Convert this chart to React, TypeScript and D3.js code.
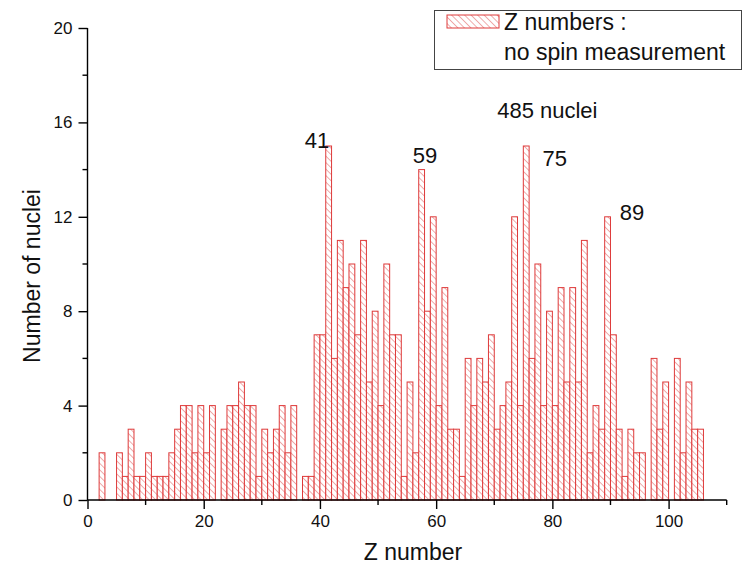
import { useEffect, useRef } from 'react'
import * as d3 from 'd3'

// Z number (left edge of each 1-wide bin) and how many nuclei fall in it
const Z_BINS = [
  2, 5, 6, 7, 8, 9, 10, 11, 12, 13, 14, 15, 16, 17, 18, 19, 20, 21,
  23, 24, 25, 26, 27, 28, 29, 30, 31, 32, 33, 34, 35,
  37, 38, 39, 40, 41, 42, 43, 44, 45, 46, 47, 48, 49, 50, 51, 52, 53, 54,
  55, 56, 57, 58, 59, 60, 61, 62, 63, 64, 65, 66, 67, 68, 69, 70,
  71, 72, 73, 74, 75, 76, 77, 78, 79, 80, 81, 82, 83, 84, 85, 86, 87, 88,
  89, 90, 91, 92, 93, 94, 95, 97, 98, 99, 101, 102, 103, 104, 105,
]
const COUNTS = [
  2, 2, 1, 3, 1, 1, 2, 1, 1, 1, 2, 3, 4, 4, 2, 4, 2, 4,
  3, 4, 4, 5, 4, 4, 1, 3, 2, 3, 4, 2, 4,
  1, 1, 7, 7, 15, 6, 11, 9, 10, 7, 11, 5, 8, 4, 10, 7, 7, 1,
  5, 2, 14, 8, 12, 4, 9, 3, 3, 1, 6, 4, 6, 5, 7, 3,
  4, 5, 12, 4, 15, 6, 10, 4, 8, 4, 9, 5, 9, 5, 11, 2, 4, 3,
  12, 7, 3, 1, 3, 2, 2, 6, 3, 5, 6, 2, 5, 3, 3,
]

const X_TICKS = [0, 20, 40, 60, 80, 100]
const X_MINOR = [10, 30, 50, 70, 90, 110]
const Y_TICKS = [0, 4, 8, 12, 16, 20]
const Y_MINOR = [2, 6, 10, 14, 18]

// peak labels: [text, z, count] placed in data space
const PEAK_LABELS: [string, number, number][] = [
  ['41', 39.5, 14.9],
  ['59', 58.1, 14.3],
  ['75', 80.4, 14.15],
  ['89', 93.7, 11.85],
]

const RED = '#de3a3a'
const HATCH = '#e46a6a'
const FONT = '"Liberation Sans", Arial, sans-serif'

export default function App() {
  const svgRef = useRef<SVGSVGElement>(null)

  useEffect(() => {
    const svgEl = svgRef.current
    if (!svgEl) return
    const totalW = 743
    const totalH = 575

    d3.select(svgEl).selectAll('*').remove()
    const svg = d3.select(svgEl).attr('width', totalW).attr('height', totalH)

    const x = d3.scaleLinear().domain([0, 110]).range([87.5, 726.7])
    const y = d3.scaleLinear().domain([0, 20]).range([500, 28])

    const defs = svg.append('defs')
    const pat = defs.append('pattern')
      .attr('id', 'hatch')
      .attr('patternUnits', 'userSpaceOnUse')
      .attr('width', 4.6).attr('height', 4.6)
      .attr('patternTransform', 'rotate(-45)')
    pat.append('rect').attr('width', 4.6).attr('height', 4.6).attr('fill', '#fff')
    pat.append('line')
      .attr('x1', 0).attr('y1', 0).attr('x2', 0).attr('y2', 4.6)
      .attr('stroke', HATCH).attr('stroke-width', 1.1)

    const bins = Z_BINS.map((z, i) => ({ z, n: COUNTS[i] }))

    svg.append('g')
      .selectAll('rect')
      .data(bins)
      .enter()
      .append('rect')
      .attr('x', d => x(d.z))
      .attr('y', d => y(d.n))
      .attr('width', d => x(d.z + 1) - x(d.z))
      .attr('height', d => y(0) - y(d.n))
      .attr('fill', 'url(#hatch)')
      .attr('stroke', RED)
      .attr('stroke-width', 1)

    // x axis
    const xAx = svg.append('g').attr('transform', `translate(0,${y(0)})`)
    xAx.call(d3.axisBottom(x).tickValues(X_TICKS).tickSize(9).tickPadding(6).tickFormat(d3.format('d')))
    X_MINOR.forEach(v => {
      xAx.append('line').attr('x1', x(v)).attr('x2', x(v)).attr('y1', 0).attr('y2', 5)
        .attr('stroke', '#000').attr('stroke-width', 1.4)
    })
    xAx.select('.domain').attr('d', `M${x(0)},0H${x(110)}`).attr('stroke-width', 1.4)
    xAx.selectAll('.tick line').attr('stroke-width', 1.4)
    xAx.selectAll('.tick text').attr('font-family', FONT).attr('font-size', 17).attr('fill', '#111')

    // y axis
    const yAx = svg.append('g').attr('transform', `translate(${x(0)},0)`)
    yAx.call(d3.axisLeft(y).tickValues(Y_TICKS).tickSize(9).tickPadding(6).tickFormat(d3.format('d')))
    Y_MINOR.forEach(v => {
      yAx.append('line').attr('x1', 0).attr('x2', -5).attr('y1', y(v)).attr('y2', y(v))
        .attr('stroke', '#000').attr('stroke-width', 1.4)
    })
    yAx.select('.domain').attr('d', `M0,${y(20)}V${y(0)}`).attr('stroke-width', 1.4)
    yAx.selectAll('.tick line').attr('stroke-width', 1.4)
    yAx.selectAll('.tick text').attr('font-family', FONT).attr('font-size', 17).attr('fill', '#111')

    // axis titles
    svg.append('text')
      .attr('x', 413).attr('y', 560)
      .attr('text-anchor', 'middle')
      .attr('font-family', FONT).attr('font-size', 23).attr('fill', '#111')
      .text('Z number')

    svg.append('text')
      .attr('transform', 'translate(40,276) rotate(-90)')
      .attr('text-anchor', 'middle')
      .attr('font-family', FONT).attr('font-size', 23).attr('fill', '#111')
      .text('Number of nuclei')

    // peak annotations
    PEAK_LABELS.forEach(([t, z, n]) => {
      svg.append('text')
        .attr('x', x(z)).attr('y', y(n))
        .attr('text-anchor', 'middle')
        .attr('font-family', FONT).attr('font-size', 22).attr('fill', '#111')
        .text(t)
    })

    svg.append('text')
      .attr('x', x(70.5)).attr('y', y(16.2))
      .attr('font-family', FONT).attr('font-size', 22).attr('fill', '#111')
      .text('485 nuclei')

    // legend
    const lg = svg.append('g')
    lg.append('rect')
      .attr('x', 434.5).attr('y', 10.5).attr('width', 307).attr('height', 59)
      .attr('fill', '#fff').attr('stroke', '#444').attr('stroke-width', 1)
    lg.append('rect')
      .attr('x', 447).attr('y', 15).attr('width', 52).attr('height', 13)
      .attr('fill', 'url(#hatch)').attr('stroke', RED).attr('stroke-width', 1)
    lg.append('text')
      .attr('x', 504).attr('y', 30)
      .attr('font-family', FONT).attr('font-size', 23).attr('fill', '#111')
      .text('Z numbers :')
    lg.append('text')
      .attr('x', 504).attr('y', 60)
      .attr('font-family', FONT).attr('font-size', 23).attr('fill', '#111')
      .text('no spin measurement')
  }, [])

  return (
    <svg ref={svgRef} style={{ position: 'absolute', left: 0, top: 0, background: '#fff' }} />
  )
}
